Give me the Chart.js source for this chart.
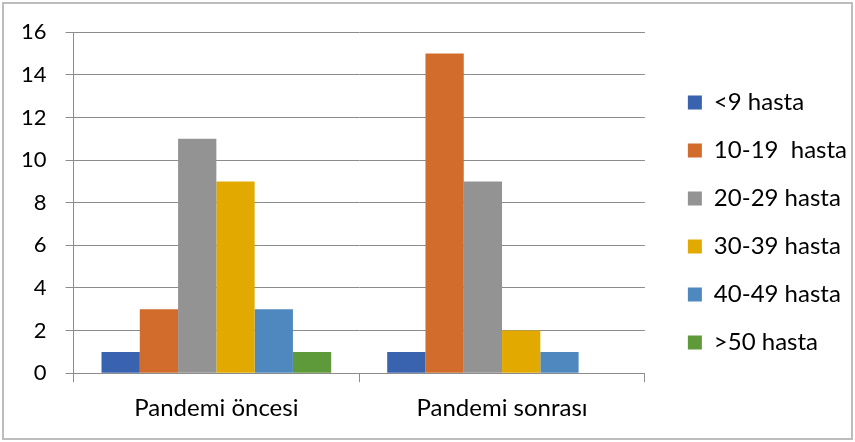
<!DOCTYPE html>
<html lang="tr">
<head>
  <meta charset="UTF-8" />
  <title>Pandemi hasta sayıları</title>
  <script src="https://cdn.jsdelivr.net/npm/chart.js"></script>
  <style>
    html, body { margin: 0; padding: 0; background: #fff; }
    #wrap { position: relative; width: 855px; height: 442px; }
  </style>
</head>
<body>
  <div id="wrap"><canvas id="grafik" width="855" height="442"></canvas></div>
  <script>
    // veriler
    const kategoriler = ['Pandemi öncesi', 'Pandemi sonrası'];
    const seriAdlari = ['<9 hasta', '10-19  hasta', '20-29 hasta', '30-39 hasta', '40-49 hasta', '>50 hasta'];
    const seriDegerleri = [
      [1, 1],
      [3, 15],
      [11, 9],
      [9, 2],
      [3, 1],
      [1, 0]
    ];
    const renkler = ['#3A63AF', '#D26C2D', '#939393', '#E2AA00', '#4F88BF', '#5F9A3A'];
    const yTikler = [0, 2, 4, 6, 8, 10, 12, 14, 16];

    // dış çerçeve
    const cerceve = {
      id: 'cerceve',
      afterDraw(chart) {
        const c = chart.ctx;
        c.save();
        c.strokeStyle = '#bdbdbd';
        c.lineWidth = 2;
        c.strokeRect(3, 3, chart.width - 6, chart.height - 6);
        c.restore();
      }
    };

    // lejandı biraz sağa ve yukarı kaydır
    const lejantKaydir = {
      id: 'lejantKaydir',
      afterLayout(chart) {
        const l = chart.legend;
        if (!l) return;
        const dx = 19, dy = -8;
        l.left += dx; l.right += dx;
        l.top += dy; l.bottom += dy;
      }
    };

    const yazi = { family: 'Lato, "Open Sans", sans-serif', size: 24 };
    const yaziY = { family: 'Lato, "Open Sans", sans-serif', size: 22 };

    new Chart(document.getElementById('grafik'), {
      type: 'bar',
      data: {
        labels: kategoriler,
        datasets: seriAdlari.map((ad, i) => ({
          label: ad,
          data: seriDegerleri[i],
          backgroundColor: renkler[i],
          borderWidth: 0
        }))
      },
      options: {
        responsive: false,
        animation: false,
        devicePixelRatio: 1,
        categoryPercentage: 0.804,
        barPercentage: 1,
        layout: { padding: { left: 2, top: 26, right: 17, bottom: 7 } },
        plugins: {
          tooltip: { enabled: false },
          legend: {
            position: 'right',
            labels: {
              color: '#000',
              font: yazi,
              boxWidth: 14,
              boxHeight: 14,
              padding: 24
            }
          }
        },
        scales: {
          x: {
            grid: { display: true, drawOnChartArea: false, offset: true, color: '#8c8c8c', tickLength: 9 },
            border: { display: true, color: '#8c8c8c' },
            ticks: { color: '#000', font: yazi, padding: 12 }
          },
          y: {
            min: 0,
            max: 16,
            afterBuildTicks(scale) { scale.ticks = yTikler.map(v => ({ value: v })); },
            grid: { color: '#8c8c8c', tickLength: 8 },
            border: { display: true, color: '#8c8c8c' },
            ticks: { color: '#000', font: yaziY, padding: 19 }
          }
        }
      },
      plugins: [cerceve, lejantKaydir]
    });
  </script>
</body>
</html>
